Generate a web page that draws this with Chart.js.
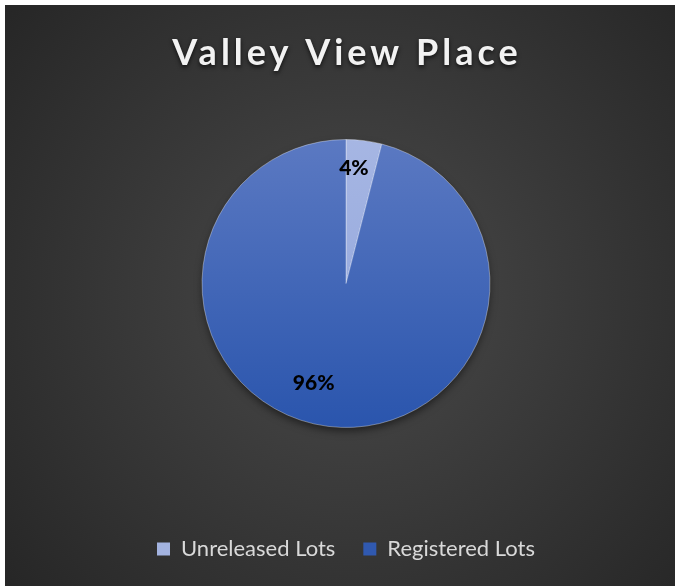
<!DOCTYPE html>
<html>
<head>
<meta charset="utf-8">
<script src="https://cdn.jsdelivr.net/npm/chart.js@4.4.1/dist/chart.umd.min.js"></script>
<style>
  html, body { margin: 0; padding: 0; background: #ffffff; }
  #wrap { position: absolute; left: 5px; top: 5px; width: 670px; height: 581px; }
</style>
</head>
<body>
<div id="wrap"><canvas id="lots"></canvas></div>
<script>
/* Valley View Place: lot status pie */

var chartTitle = 'Valley View Place';
var categories = ['Unreleased Lots', 'Registered Lots'];
var lotShares = [4, 96];
var valueLabels = ['4%', '96%'];

var pieRadius = 144;

// slice fills, light at the top and darker toward the bottom
var sliceTop = ['#a6b6e3', '#5b79c2'];
var sliceBottom = ['#8ea3da', '#2a55ad'];
var legendSwatch = ['#a3b3e0', '#3059b0'];

// where each percentage sits: fraction along the slice, fraction of radius
var labelSpots = [{ along: 0.275, out: 0.80 }, { along: 0.531, out: 0.73 }];

function sliceFill(ctx) {
  var chart = ctx.chart;
  var area = chart.chartArea;
  if (!area || !isFinite(area.top) || !isFinite(area.bottom)) return sliceTop[ctx.dataIndex];
  var cy = (area.top + area.bottom) / 2;
  var g = chart.ctx.createLinearGradient(0, cy - pieRadius, 0, cy + pieRadius);
  g.addColorStop(0, sliceTop[ctx.dataIndex]);
  g.addColorStop(1, sliceBottom[ctx.dataIndex]);
  return g;
}

var backdrop = {
  id: 'backdrop',
  beforeDraw: function (chart) {
    var c = chart.ctx, w = chart.width, h = chart.height;
    c.save();
    var g = c.createRadialGradient(w * 0.52, h * 0.5, 0, w * 0.52, h * 0.5, Math.max(w, h) * 0.68);
    g.addColorStop(0, '#4a4a4a');
    g.addColorStop(1, '#262626');
    c.fillStyle = g;
    c.fillRect(0, 0, w, h);
    c.restore();
  },
  beforeDatasetsDraw: function (chart) {
    // soft drop shadow under the whole pie
    var arc = chart.getDatasetMeta(0).data[0];
    if (!arc || !isFinite(arc.x) || !isFinite(arc.y)) return;
    var c = chart.ctx;
    c.save();
    c.shadowColor = 'rgba(0,0,0,0.55)';
    c.shadowBlur = 9;
    c.shadowOffsetY = 4;
    c.fillStyle = '#2a55ad';
    c.beginPath();
    c.arc(arc.x, arc.y, arc.outerRadius - 1, 0, Math.PI * 2);
    c.fill();
    c.restore();
  },
  afterDraw: function (chart) {
    var c = chart.ctx;
    var arcs = chart.getDatasetMeta(0).data;
    if (!arcs.length || !isFinite(arcs[0].x)) return;
    c.save();
    // percentage labels
    c.fillStyle = '#000000';
    c.font = '900 21px Lato';
    c.textAlign = 'center';
    c.textBaseline = 'middle';
    arcs.forEach(function (a, i) {
      var spot = labelSpots[i];
      var ang = a.startAngle + (a.endAngle - a.startAngle) * spot.along;
      var rr = a.outerRadius * spot.out;
      c.fillText(valueLabels[i], a.x + Math.cos(ang) * rr, a.y + Math.sin(ang) * rr);
    });
    // title with spaced letters and a shadow
    c.font = 'bold 36px Lato';
    c.letterSpacing = '4px';
    c.textBaseline = 'alphabetic';
    c.fillStyle = '#f2f2f2';
    c.shadowColor = 'rgba(0,0,0,0.7)';
    c.shadowBlur = 4;
    c.shadowOffsetY = 2;
    c.fillText(chartTitle, arcs[0].x + 1, 60);
    c.restore();
  }
};

new Chart(document.getElementById('lots'), {
  type: 'pie',
  data: {
    labels: categories,
    datasets: [{
      data: lotShares,
      backgroundColor: sliceFill,
      borderColor: 'rgba(255,255,255,0.35)',
      borderWidth: 1
    }]
  },
  options: {
    responsive: true, maintainAspectRatio: false, animation: false,
    radius: pieRadius,
    layout: { padding: { left: 12, right: 0, top: 52, bottom: 16 } },
    plugins: {
      title: { display: false },
      tooltip: { enabled: false },
      legend: {
        position: 'bottom',
        labels: {
          color: '#d9d9d9',
          font: { family: 'Lato', size: 22 },
          boxWidth: 13, boxHeight: 13, padding: 28,
          generateLabels: function (chart) {
            return categories.map(function (name, i) {
              return { text: name, fillStyle: legendSwatch[i], strokeStyle: legendSwatch[i], lineWidth: 0, index: i, fontColor: '#d9d9d9' };
            });
          }
        }
      }
    }
  },
  plugins: [backdrop]
});
</script>
</body>
</html>
